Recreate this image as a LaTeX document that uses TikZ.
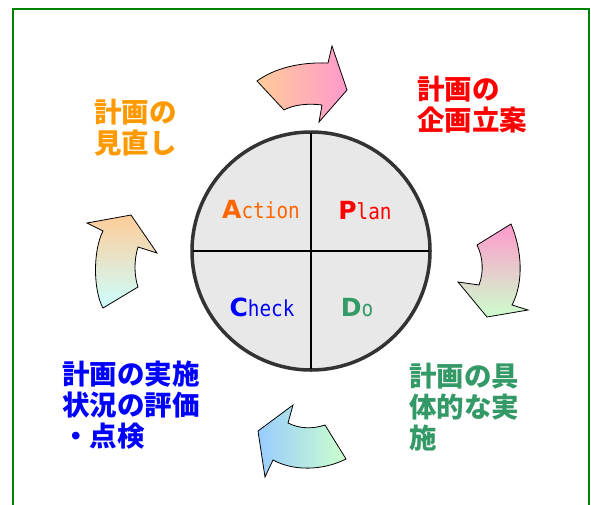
\documentclass[tikz,border=0pt]{standalone}
\usepackage{fontspec}
\usepackage{xcolor}
\newfontfamily\jpfont{Noto Sans CJK JP}
\newfontfamily\capfont{DejaVu Sans}
\newfontfamily\lowfont[FakeStretch=0.88]{DejaVu Sans Mono}
\definecolor{frameg}{HTML}{008000}
\definecolor{ringgray}{HTML}{333333}
\definecolor{diskgray}{HTML}{E8E8E8}
\definecolor{actorange}{HTML}{FF6600}
\definecolor{lborange}{HTML}{FF9900}
\definecolor{dogreen}{HTML}{339966}
\definecolor{peach}{HTML}{FFCC99}
\definecolor{pinkish}{HTML}{FF99CC}
\definecolor{mint}{HTML}{CCFFCC}
\definecolor{skyblue}{HTML}{99CCFF}
\definecolor{paleaqua}{HTML}{CCFFFF}
\newcommand{\pdcaword}[2]{{\capfont\bfseries\fontsize{25}{25}\selectfont #1}{\lowfont\fontsize{22}{22}\selectfont #2}}

\begin{document}
\begin{tikzpicture}[x=1pt,y=-1pt,
  jplabel/.style={font=\jpfont\bfseries\fontsize{27.5}{31}\selectfont, align=left, anchor=north west, inner sep=0pt},
  pdca/.style={anchor=base, inner sep=0pt},
  blockarrow/.style={draw=black, line width=0.8pt, line join=miter}]
\clip (0,0) rectangle (591,504);
\draw [line width=2pt, frameg] (13,9) rectangle (589,540);
% the PDCA disk
\draw [line width=3.5pt, ringgray, fill=diskgray] (311,251) circle (119);
\draw [line width=1.8pt] (311,133) -- (311,369);
\draw [line width=1.8pt] (193,251) -- (429,251);
\node [pdca, text=actorange] (act) at (261,218) {\pdcaword{A}{ction}};
\node [pdca, text=red] (plan) at (365,219) {\pdcaword{P}{lan}};
\node [pdca, text=blue] (check) at (262,316) {\pdcaword{C}{heck}};
\node [pdca, text=dogreen] (do) at (357,316) {\pdcaword{D}{o}};
% curved arrows round the disk
\shade [blockarrow, left color=peach, right color=pinkish]
  (257,81) .. controls (275,68) and (300,62) .. (328,63) -- (332,46) -- (347,90) -- (319,122) -- (322,105)
  .. controls (307,103) and (293,105) .. (284,110) -- cycle;
\shade [blockarrow, top color=pinkish, bottom color=mint]
  (477,245) -- (511,224) .. controls (522,250) and (524,282) .. (512,305) -- (528,310) -- (487,317) -- (458,282) -- (479,285)
  .. controls (484,272) and (483,257) .. (477,245) -- cycle;
\shade [blockarrow, left color=skyblue, right color=mint]
  (325,425) -- (346,459) .. controls (322,471) and (293,471) .. (273,460) -- (265,477) -- (258,431) -- (293,405) -- (288,423)
  .. controls (300,429) and (313,429) .. (325,425) -- cycle;
\shade [blockarrow, top color=peach, bottom color=paleaqua]
  (103,308) .. controls (93,290) and (93,250) .. (103,231) -- (87,223) -- (131,215) -- (157,253) -- (138,247)
  .. controls (134,260) and (134,275) .. (138,287) -- cycle;
% the four stages
\node [jplabel, text=lborange] (review) at (94,99) {計画の\\見直し};
\node [jplabel, text=red] (planning) at (417,76) {計画の\\企画立案};
\node [jplabel, text=blue] (evaluate) at (62,361) {計画の実施\\状況の評価\\・点検};
\node [jplabel, text=dogreen] (execute) at (409,363) {計画の具\\体的な実\\施};
\end{tikzpicture}
\end{document}
